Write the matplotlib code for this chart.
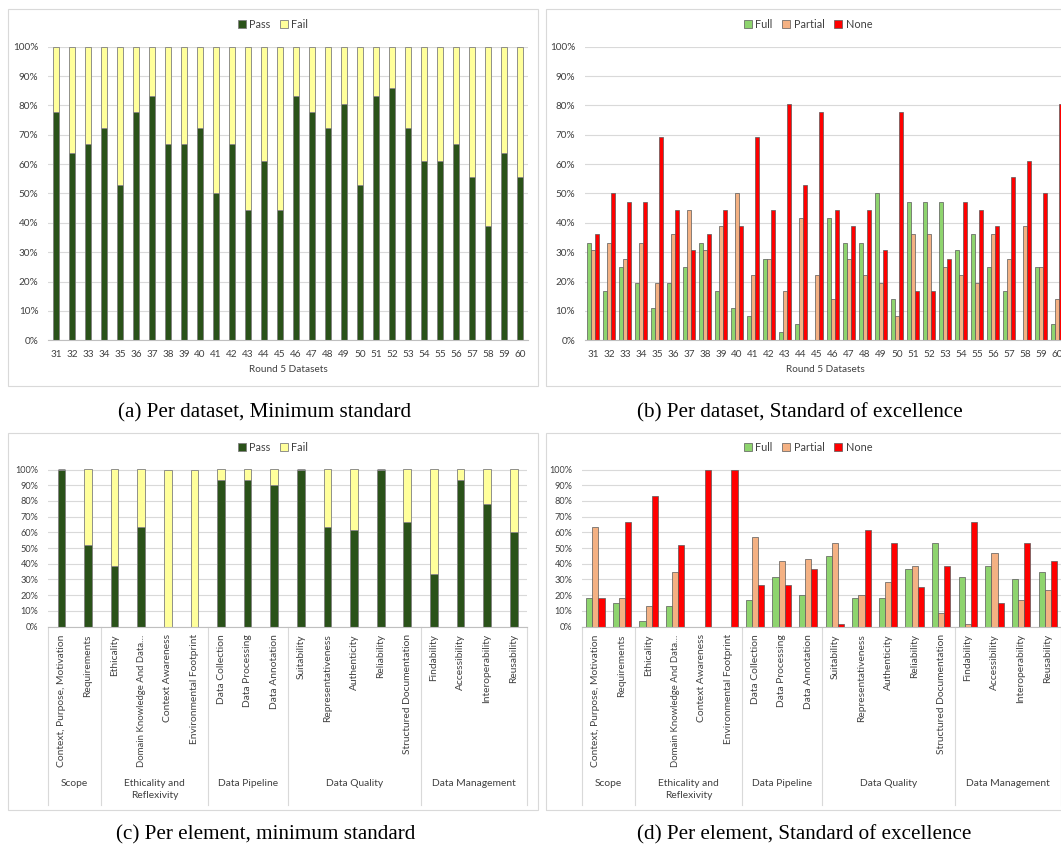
import matplotlib
matplotlib.use("Agg")
import matplotlib.pyplot as plt
from matplotlib.patches import Rectangle, Patch
from matplotlib.ticker import FuncFormatter, MultipleLocator
import numpy as np

# ---------------- data ----------------
datasets = [str(i) for i in range(31, 61)]
a_pass = [77.8, 63.9, 66.7, 72.2, 52.8, 77.8, 83.3, 66.7, 66.7, 72.2, 50.0, 66.7, 44.4, 61.1, 44.4,
          83.3, 77.8, 72.2, 80.6, 52.8, 83.3, 86.1, 72.2, 61.1, 61.1, 66.7, 55.6, 38.9, 63.9, 55.6]
a_fail = [22.2, 36.1, 33.3, 27.8, 47.2, 22.2, 16.7, 33.3, 33.3, 27.8, 50.0, 33.3, 55.6, 38.9, 55.6,
          16.7, 22.2, 27.8, 19.4, 47.2, 16.7, 13.9, 27.8, 38.9, 38.9, 33.3, 44.4, 61.1, 36.1, 44.4]

b_full = [33.3, 16.7, 25.0, 19.4, 11.1, 19.4, 25.0, 33.3, 16.7, 11.1, 8.3, 27.8, 2.8, 5.6, 0.0,
          41.7, 33.3, 33.3, 50.0, 13.9, 47.2, 47.2, 47.2, 30.6, 36.1, 25.0, 16.7, 0.0, 25.0, 5.6]
b_partial = [30.6, 33.3, 27.8, 33.3, 19.4, 36.1, 44.4, 30.6, 38.9, 50.0, 22.2, 27.8, 16.7, 41.7, 22.2,
             13.9, 27.8, 22.2, 19.4, 8.3, 36.1, 36.1, 25.0, 22.2, 19.4, 36.1, 27.8, 38.9, 25.0, 13.9]
b_none = [36.1, 50.0, 47.2, 47.2, 69.4, 44.4, 30.6, 36.1, 44.4, 38.9, 69.4, 44.4, 80.6, 52.8, 77.8,
          44.4, 38.9, 44.4, 30.6, 77.8, 16.7, 16.7, 27.8, 47.2, 44.4, 38.9, 55.6, 61.1, 50.0, 80.6]

elements = ["Context, Purpose, Motivation", "Requirements", "Ethicality",
            "Domain Knowledge And Data\u2026", "Context Awareness", "Environmental Footprint",
            "Data Collection", "Data Processing", "Data Annotation", "Suitability",
            "Representativeness", "Authenticity", "Reliability", "Structured Documentation",
            "Findability", "Accessibility", "Interoperability", "Reusability"]
group_names = ["Scope", "Ethicality and\nReflexivity", "Data Pipeline", "Data Quality", "Data Management"]
group_sizes = [2, 4, 3, 5, 4]

c_pass = [100, 51.7, 38.3, 63.3, 0, 0, 93.3, 93.3, 90.0, 100, 63.3, 61.7, 100, 66.7, 33.3, 93.3, 78.3, 60.0]
c_fail = [0, 48.3, 61.7, 36.7, 100, 100, 6.7, 6.7, 10.0, 0, 36.7, 38.3, 0, 33.3, 66.7, 6.7, 21.7, 40.0]

d_full = [18.3, 15.0, 3.3, 13.3, 0, 0, 16.7, 31.7, 20.0, 45.0, 18.3, 18.3, 36.7, 53.3, 31.7, 38.3, 30.0, 35.0]
d_partial = [63.3, 18.3, 13.3, 35.0, 0, 0, 56.7, 41.7, 43.3, 53.3, 20.0, 28.3, 38.3, 8.3, 1.7, 46.7, 16.7, 23.3]
d_none = [18.3, 66.7, 83.3, 51.7, 100, 100, 26.7, 26.7, 36.7, 1.7, 61.7, 53.3, 25.0, 38.3, 66.7, 15.0, 53.3, 41.7]

captions = ["(a) Per dataset, Minimum standard", "(b) Per dataset, Standard of excellence",
            "(c) Per element, minimum standard", "(d) Per element, Standard of excellence"]

# ---------------- style ----------------
PASS_C = "#2A5219"
FAIL_C = "#FFFF9B"
FULL_C = "#8ED46E"
PART_C = "#F4B183"
NONE_C = "#FF0000"
GRID_C = "#D9D9D9"
TXT_C = "#404040"

plt.rcParams["font.family"] = ["Lato", "DejaVu Sans"]
W, H = 1061, 847
fig = plt.figure(figsize=(W / 100, H / 100), dpi=100)


def px_axes(x0, y0, x1, y1):
    return fig.add_axes([x0 / W, 1 - y1 / H, (x1 - x0) / W, (y1 - y0) / H])


def frame(x0, y0, x1, y1):
    fig.add_artist(Rectangle((x0 / W, 1 - y1 / H), (x1 - x0) / W, (y1 - y0) / H,
                             transform=fig.transFigure, fill=False, ec=GRID_C, lw=0.8))


def style_axes(ax, ytick_step):
    for s in ["top", "right", "left"]:
        ax.spines[s].set_visible(False)
    ax.spines["bottom"].set_color("#BFBFBF")
    ax.spines["bottom"].set_linewidth(0.8)
    ax.set_ylim(0, 100)
    ax.yaxis.set_major_locator(MultipleLocator(ytick_step))
    ax.yaxis.set_major_formatter(FuncFormatter(lambda v, p: f"{int(round(v))}%"))
    ax.grid(axis="y", color=GRID_C, lw=0.8)
    ax.set_axisbelow(True)
    ax.tick_params(axis="y", length=0, pad=7, labelsize=7.2, labelcolor=TXT_C)
    ax.tick_params(axis="x", length=0, labelcolor=TXT_C)


def legend(x, y, handles):
    fig.legend(handles=handles, loc="center", bbox_to_anchor=(x / W, 1 - y / H), ncol=len(handles),
               frameon=False, fontsize=7.8, handlelength=0.75, handleheight=0.75, handletextpad=0.3,
               columnspacing=0.9, labelcolor=TXT_C)


# frames
frame(8.3, 9.3, 537.7, 386)
frame(545.7, 9.3, 1075, 386)
frame(8.3, 432.7, 537.7, 810)
frame(545.7, 432.7, 1075, 810)

# ---------------- (a) ----------------
ax = px_axes(48.1, 46.7, 528.1, 340.3)
x = np.arange(len(datasets))
ax.bar(x, a_pass, width=0.4, color=PASS_C, ec="#7F7F7F", lw=0.6)
ax.bar(x, a_fail, width=0.4, bottom=a_pass, color=FAIL_C, ec="#7F7F7F", lw=0.6)
ax.set_xlim(-0.5, len(datasets) - 0.5)
style_axes(ax, 10)
ax.set_xticks(x)
ax.set_xticklabels(datasets, fontsize=7.2)
ax.tick_params(axis="x", pad=7)
ax.set_xlabel("Round 5 Datasets", fontsize=7.2, color=TXT_C, labelpad=4)
legend(273, 24.5, [Patch(fc=PASS_C, ec="#7F7F7F", lw=0.6, label="Pass"),
                   Patch(fc=FAIL_C, ec="#7F7F7F", lw=0.6, label="Fail")])

# ---------------- (b) ----------------
ax = px_axes(585, 46.7, 1065, 340.3)
bw = 0.23
ax.bar(x - bw, b_full, width=bw, color=FULL_C, ec="#595959", lw=0.5)
ax.bar(x, b_partial, width=bw, color=PART_C, ec="#595959", lw=0.5)
ax.bar(x + bw, b_none, width=bw, color=NONE_C, ec="#595959", lw=0.5)
ax.set_xlim(-0.5, len(datasets) - 0.5)
style_axes(ax, 10)
ax.set_xticks(x)
ax.set_xticklabels(datasets, fontsize=7.2)
ax.tick_params(axis="x", pad=7)
ax.set_xlabel("Round 5 Datasets", fontsize=7.2, color=TXT_C, labelpad=4)
legend(808, 24.5, [Patch(fc=FULL_C, ec="#595959", lw=0.5, label="Full"),
                   Patch(fc=PART_C, ec="#595959", lw=0.5, label="Partial"),
                   Patch(fc=NONE_C, ec="#595959", lw=0.5, label="None")])


def group_axis(ax):
    xt = ax.get_xaxis_transform()
    y_bottom = -(805 - 626.5) / (626.5 - 469.5)
    bounds = np.concatenate([[0], np.cumsum(group_sizes)]) - 0.5
    for b in bounds:
        ax.plot([b, b], [0, y_bottom], transform=xt, color=GRID_C, lw=0.8, clip_on=False)
    for i, name in enumerate(group_names):
        cx = (bounds[i] + bounds[i + 1]) / 2
        ax.text(cx, -(779 - 626.5) / (626.5 - 469.5), name, transform=xt, ha="center", va="top",
                fontsize=7.4, color=TXT_C, linespacing=1.4)


def element_labels(ax):
    ax.set_xticks(xe)
    labs = ax.set_xticklabels(elements, fontsize=7.4, rotation=90, va="top", ha="center")
    labs[3].set_fontsize(6.9)
    ax.tick_params(axis="x", pad=5.5)


# ---------------- (c) ----------------
ax = px_axes(48.1, 469.5, 527.0, 626.5)
xe = np.arange(len(elements))
ax.bar(xe, c_pass, width=0.29, color=PASS_C, ec="#7F7F7F", lw=0.6)
ax.bar(xe, c_fail, width=0.29, bottom=c_pass, color=FAIL_C, ec="#7F7F7F", lw=0.6)
ax.set_xlim(-0.5, len(elements) - 0.5)
style_axes(ax, 10)
ax.tick_params(axis="y", labelsize=6.6)
element_labels(ax)
group_axis(ax)
legend(273, 447.7, [Patch(fc=PASS_C, ec="#7F7F7F", lw=0.6, label="Pass"),
                    Patch(fc=FAIL_C, ec="#7F7F7F", lw=0.6, label="Fail")])

# ---------------- (d) ----------------
ax = px_axes(582.1, 469.5, 1061.0, 626.5)
bw = 0.23
ax.bar(xe - bw, d_full, width=bw, color=FULL_C, ec="#595959", lw=0.5)
ax.bar(xe, d_partial, width=bw, color=PART_C, ec="#595959", lw=0.5)
ax.bar(xe + bw, d_none, width=bw, color=NONE_C, ec="#595959", lw=0.5)
ax.set_xlim(-0.5, len(elements) - 0.5)
style_axes(ax, 10)
ax.tick_params(axis="y", labelsize=6.6)
element_labels(ax)
group_axis(ax)
legend(808, 447.7, [Patch(fc=FULL_C, ec="#595959", lw=0.5, label="Full"),
                    Patch(fc=PART_C, ec="#595959", lw=0.5, label="Partial"),
                    Patch(fc=NONE_C, ec="#595959", lw=0.5, label="None")])

# ---------------- captions ----------------
cap_pos = [(265, 413), (800, 413), (266, 835), (804, 835)]
for (cx, cy), t in zip(cap_pos, captions):
    fig.text(cx / W, 1 - cy / H, t, ha="center", va="center", fontsize=15.2,
             family=["Liberation Serif", "DejaVu Serif"], color="black")

fig.savefig("out.png", dpi=100)
